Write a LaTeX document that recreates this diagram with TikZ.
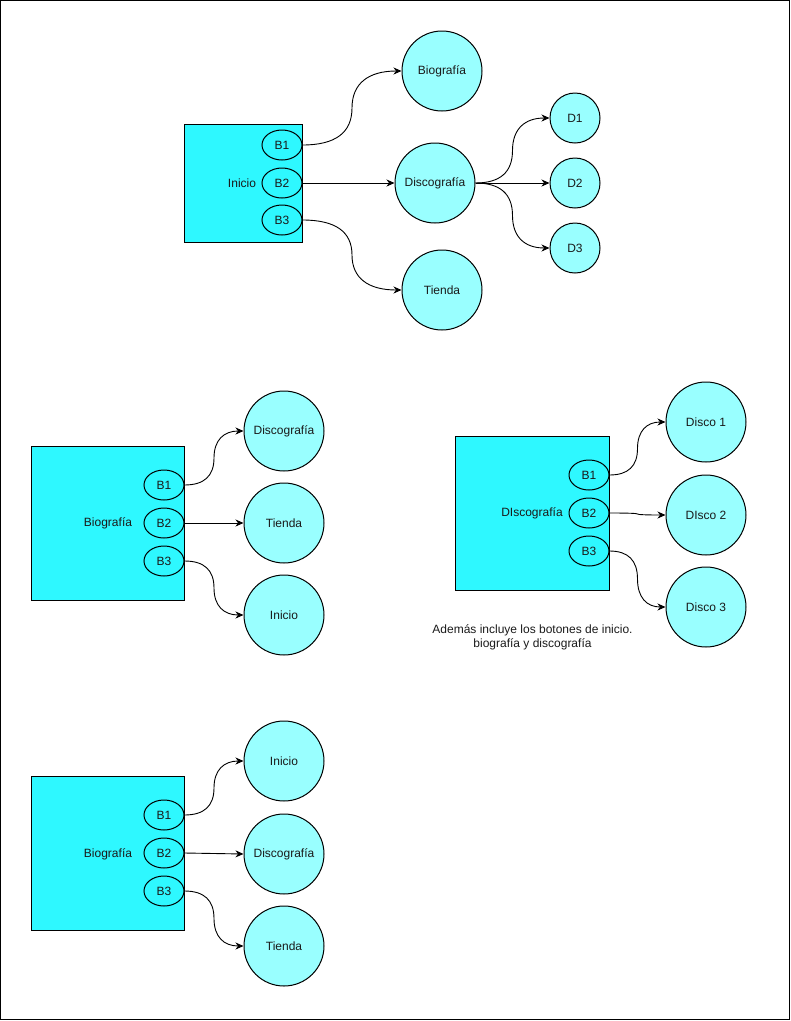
\documentclass[tikz,border=0pt]{standalone}
\usepackage{fontspec}
\setmainfont{Liberation Sans}
\usetikzlibrary{shapes.geometric,arrows.meta,calc}

\definecolor{screenfill}{RGB}{46,248,255}
\definecolor{pagefill}{RGB}{153,255,255}
\definecolor{inktext}{RGB}{26,26,26}

% S-shaped link leaving horizontally and arriving horizontally:
% two quadratic arcs that meet halfway, written as cubic curves
\newcommand{\curvelink}[2]{%
  \draw[link] let \p1=(#1), \p2=(#2),
    \n1={(\x2-\x1)/2}, \n2={(\x1+\x2)/2}, \n3={(\y1+\y2)/2},
    \n4={\n3+2/3*(\y1-\n3)}, \n5={\n3+2/3*(\y2-\n3)},
    \n7={\x1+2/3*\n1}, \n8={\x2-2/3*\n1} in
    (\p1)
    .. controls ({\n7},{\y1}) and ({\n2},{\n4}) .. ({\n2},{\n3})
    .. controls ({\n2},{\n5}) and ({\n8},{\y2}) .. (\p2);}

\begin{document}
\begin{tikzpicture}[x=1pt,y=1pt,
  every node/.style={font=\fontsize{12}{14}\selectfont, text=inktext},
  screen/.style={draw=black, fill=screenfill, line width=1pt, inner sep=0pt},
  button/.style={ellipse, draw=black, fill=screenfill, line width=1pt, inner sep=0pt,
                 minimum width=40pt, minimum height=30pt},
  pagenode/.style={circle, draw=black, fill=pagefill, line width=1pt, inner sep=0pt,
                   minimum size=80pt},
  subpage/.style={circle, draw=black, fill=pagefill, line width=1pt, inner sep=0pt,
                  minimum size=50pt},
  link/.style={draw=black, line width=0.9pt, -{Stealth[length=8pt,width=7pt,inset=2.5pt]}},
  caption/.style={align=center, inner sep=0pt}
]
\useasboundingbox (0,0) rectangle (791,-1021);
\draw[line width=1pt] (0.5,-0.5) rectangle (789.5,-1019.5);

% ---------- Inicio ----------
\node[screen, minimum width=118pt, minimum height=118pt] (inicio) at (243,-183) {};
\node (inicioLbl) at (242,-183) {Inicio};
\node[button] (iB1) at (282,-145) {B1};
\node[button] (iB2) at (282,-183) {B2};
\node[button] (iB3) at (282,-220) {B3};

\node[pagenode] (iBio)  at (442,-71)  {Biografía};
\node[pagenode] (iDisc) at (435,-183) {Discografía};
\node[pagenode] (iTie)  at (442,-290) {Tienda};

\node[subpage] (d1) at (575,-118) {D1};
\node[subpage] (d2) at (575,-183) {D2};
\node[subpage] (d3) at (575,-248) {D3};

\curvelink{iB1.east}{iBio.west}
\draw[link] (iB2.east) -- (iDisc.west);
\curvelink{iB3.east}{iTie.west}
\curvelink{iDisc.east}{d1.west}
\draw[link] (iDisc.east) -- (d2.west);
\curvelink{iDisc.east}{d3.west}

% ---------- Biografía ----------
\node[screen, minimum width=153pt, minimum height=154pt] (bio) at (107.5,-523) {};
\node (bioLbl) at (108,-523) {Biografía};
\node[button] (bB1) at (164,-485) {B1};
\node[button] (bB2) at (164,-523) {B2};
\node[button] (bB3) at (164,-561) {B3};

\node[pagenode] (bDisc) at (284,-431) {Discografía};
\node[pagenode] (bTie)  at (284,-523) {Tienda};
\node[pagenode] (bIni)  at (284,-615) {Inicio};

\curvelink{bB1.east}{bDisc.west}
\draw[link] (bB2.east) -- (bTie.west);
\curvelink{bB3.east}{bIni.west}

% ---------- DIscografía ----------
\node[screen, minimum width=154pt, minimum height=154pt] (disc) at (532,-513) {};
\node (discLbl) at (532,-513) {DIscografía};
\node[button] (dB1) at (589,-475) {B1};
\node[button] (dB2) at (589,-513) {B2};
\node[button] (dB3) at (589,-551) {B3};

\node[pagenode] (disco1) at (706,-422) {Disco 1};
\node[pagenode] (disco2) at (706,-515) {DIsco 2};
\node[pagenode] (disco3) at (706,-607) {Disco 3};

\curvelink{dB1.east}{disco1.west}
\curvelink{dB2.east}{disco2.west}
\curvelink{dB3.east}{disco3.west}

\node[caption] (note) at (532.5,-637) {Además incluye los botones de inicio.\\biografía y discografía};

% ---------- Tienda ----------
\node[screen, minimum width=153pt, minimum height=154pt] (shop) at (107.5,-853) {};
\node (shopLbl) at (108,-854) {Biografía};
\node[button] (sB1) at (164,-815) {B1};
\node[button] (sB2) at (164,-853) {B2};
\node[button] (sB3) at (164,-891) {B3};

\node[pagenode] (sIni)  at (284,-761) {Inicio};
\node[pagenode] (sDisc) at (284,-854) {Discografía};
\node[pagenode] (sTie)  at (284,-946) {Tienda};

\curvelink{sB1.east}{sIni.west}
\draw[link] (sB2.east) -- (sDisc.west);
\curvelink{sB3.east}{sTie.west}
\end{tikzpicture}
\end{document}
